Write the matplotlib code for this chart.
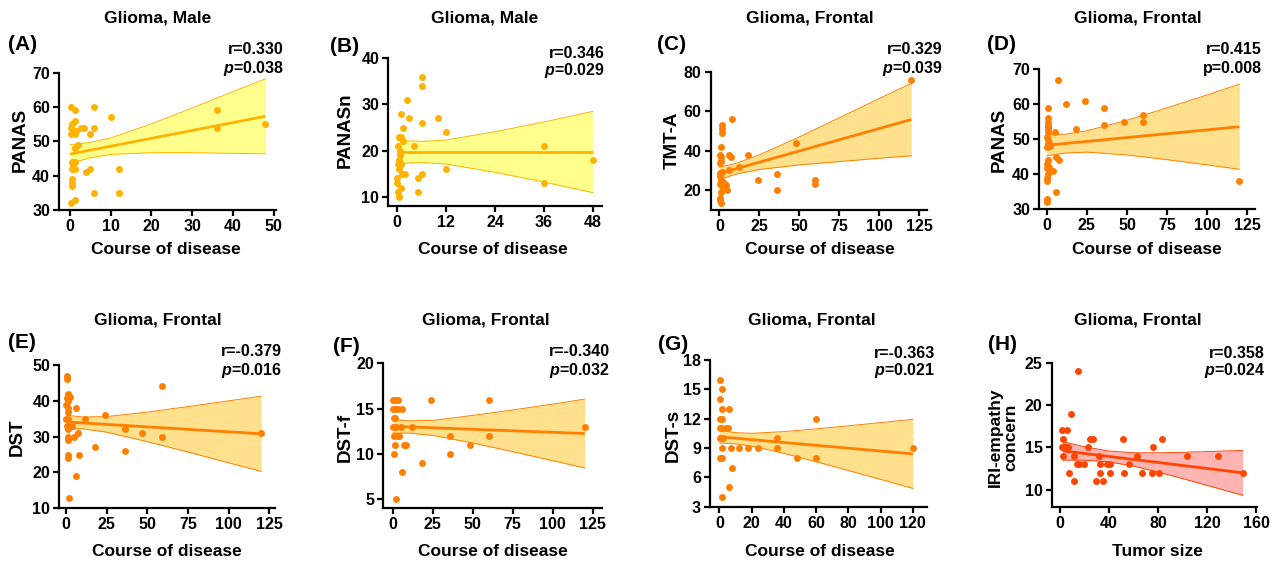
"""Eight Prism-style correlation panels (glioma, course of disease / tumor size)."""
import matplotlib

matplotlib.use("Agg")
import matplotlib.pyplot as plt  # noqa: E402

W, H = 1277, 561

plt.rcParams["font.family"] = ["Liberation Sans", "DejaVu Sans"]
plt.rcParams["font.weight"] = "bold"
plt.rcParams["mathtext.fontset"] = "custom"
plt.rcParams["mathtext.it"] = "Liberation Sans:bold:italic"
plt.rcParams["mathtext.rm"] = "Liberation Sans:bold"

# ---------------- data ----------------
# (A) Glioma, Male - PANAS
a_x = [0.3, 1.2, 1.2, 0.5, 0.3, 1.5, 0.3, 1.2, 2.8, 3.5, 5, 6, 6, 10, 2, 1.2,
       0.6, 1.2, 0.8, 0.4, 1.2, 4, 5, 12, 0.6, 0.4, 0.4, 6, 12, 1.2, 0.2,
       36, 36, 48]
a_y = [60, 59, 56, 55, 54, 53, 52, 52, 54, 54, 52, 60, 54, 57, 49, 48,
       44, 44, 43, 42, 42, 41, 42, 42, 39, 38, 37, 35, 35, 33, 32,
       59, 54, 55]
a_fit_x = [0, 48]
a_fit_y = [46.3, 57.3]
a_band_x = [0, 5, 10, 20, 30, 40, 48]
a_band_lo = [43.6, 45.2, 46.2, 46.7, 46.7, 46.5, 46.4]
a_band_hi = [49.0, 49.7, 51.0, 55.1, 59.7, 64.5, 68.2]

# (B) Glioma, Male - PANASn
b_x = [6, 6, 2.5, 1, 3, 10, 6, 1.5, 12, 0.5, 1, 1.5, 0.3, 4, 36, 0.7, 0.6,
       0.5, 0.8, 0.2, 2, 1.2, 6, 12, 0.5, 5, 0, 0, 0.8, 0.3, 5, 0.5, 36, 48]
b_y = [36, 34, 31, 28, 27, 27, 26, 25, 24, 23, 23, 22, 21, 21, 21, 20, 19,
       18, 17, 17, 15, 15, 15, 16, 16, 14, 14, 13, 12, 11, 11, 10, 13, 18]
b_fit_x = [0, 48]
b_fit_y = [19.7, 19.7]
b_band_x = [0, 6, 12, 24, 36, 48]
b_band_lo = [17.2, 17.4, 17.1, 15.3, 13.2, 10.9]
b_band_hi = [22.2, 22.0, 22.3, 24.1, 26.2, 28.5]

# (C) Glioma, Frontal - TMT-A
c_x = [120, 8, 1.5, 1.5, 1.5, 1, 0.5, 1, 6, 7, 18, 0.5, 1, 48, 12, 6, 0.5,
       1.5, 36, 24, 60, 60, 36, 5, 3.5, 4, 0.4, 1, 2, 0.4, 1.5, 1, 0.4, 1,
       0.5]
c_y = [76, 56, 53, 51, 49, 42, 38, 37, 38, 37, 38, 34, 35, 44, 32, 30, 28.5,
       29, 28, 25, 25, 23, 20, 20, 23, 22.5, 27, 25, 24, 23, 22, 19, 15.3,
       13.5, 16]
c_fit_x = [0, 120]
c_fit_y = [28.5, 55.8]
c_band_x = [0, 10, 25, 50, 75, 100, 120]
c_band_lo = [25.3, 28.1, 30.5, 32.8, 34.5, 36.2, 37.45]
c_band_hi = [31.7, 33.5, 37.9, 47.0, 56.7, 66.4, 74.15]

# (D) Glioma, Frontal - PANAS
d_x = [7, 1, 12, 24, 36, 60, 60, 48, 36, 18, 5, 0.5, 1, 0.5, 0.5, 1, 0.5,
       0, 0.6, 0.5, 0.4, 1.6, 2, 5.6, 7.7, 1, 0.4, 1.7, 0.4, 4, 1, 0.4, 0,
       6, 0.4, 0.4, 120]
d_y = [67, 59, 60, 61, 59, 57, 55, 55, 54, 53, 52, 56, 55, 54, 53.5, 53, 52,
       50.5, 49.7, 48.6, 47.8, 49, 48, 45, 44, 44, 43, 42, 41.6, 41, 40, 39,
       38, 35, 33, 32, 38]
d_fit_x = [0, 120]
d_fit_y = [48.2, 53.5]
d_band_x = [0, 12, 25, 50, 75, 100, 120]
d_band_lo = [45.2, 46.0, 46.25, 45.45, 44.1, 42.6, 41.35]
d_band_hi = [51.2, 51.4, 52.35, 55.35, 58.9, 62.6, 65.65]

# (E) Glioma, Frontal - DST
e_x = [0.4, 0.4, 1.4, 2.5, 0.4, 1.4, 0, 1, 6, 1.4, 24, 12, 0, 1.4, 3.5,
       0.4, 1, 36, 5, 7.6, 47, 59, 59, 120, 1.4, 1.4, 18, 36, 8, 1.4, 1.4,
       6, 1.8]
e_y = [47, 46, 42, 41, 40.7, 40, 38.8, 38, 38, 37, 36, 35, 35, 34.8, 33,
       33, 32, 32, 30, 31, 31, 30, 44, 31, 30, 29, 27, 26, 25, 25, 24,
       19, 13]
e_fit_x = [0, 120]
e_fit_y = [34.1, 30.8]
e_band_x = [0, 10, 25, 50, 75, 100, 120]
e_band_lo = [32.2, 32.2, 31.25, 28.6, 25.7, 22.7, 20.3]
e_band_hi = [36.0, 35.5, 35.6, 36.85, 38.4, 40.0, 41.3]

# (F) Glioma, Frontal - DST-f
f_x = [0, 1.5, 3, 24, 60, 0, 1.5, 3, 6, 0.8, 1.5, 0, 2, 5, 12, 120, 1, 3.5,
       4, 36, 60, 1.5, 7, 8.5, 48, 1, 36, 18, 6, 2]
f_y = [16, 16, 16, 16, 16, 15, 15, 15, 15, 14, 14, 13, 13, 13, 13, 13, 12,
       12, 12, 12, 12, 11, 11, 11, 11, 10, 10, 9, 8, 5]
f_fit_x = [0, 120]
f_fit_y = [13.05, 12.25]
f_band_x = [0, 10, 25, 50, 75, 100, 120]
f_band_lo = [12.3, 12.3, 12.05, 11.2, 10.25, 9.25, 8.45]
f_band_hi = [13.8, 13.65, 13.7, 14.25, 14.85, 15.5, 16.05]

# (G) Glioma, Frontal - DST-s
g_x = [0.4, 1.4, 0.4, 1.4, 6, 0.4, 1.4, 60, 0.4, 1.9, 4, 5.6, 0.4, 2.5, 36,
       1.4, 7, 12, 18, 24, 36, 120, 0.4, 1.4, 48, 60, 8, 6, 1.4]
g_y = [16, 15, 14, 13, 13, 12, 12, 12, 11, 11, 11, 11, 10, 10, 10,
       9, 9, 9, 9, 9, 9, 9, 8, 8, 8, 8, 7, 5, 4]
g_fit_x = [0, 120]
g_fit_y = [10.15, 8.4]
g_band_x = [0, 10, 20, 40, 60, 80, 100, 120]
g_band_lo = [9.5, 9.43, 9.2, 8.46, 7.6, 6.7, 5.8, 4.87]
g_band_hi = [10.8, 10.57, 10.5, 10.68, 10.96, 11.27, 11.6, 11.93]

# (H) Glioma, Frontal - IRI-empathy concern vs tumor size
h_x = [15, 9, 2, 5.4, 2.7, 24.5, 26.7, 51.7, 83, 1.4, 3.3, 4.9, 6.8, 23, 76,
       2.7, 11.4, 32, 63, 104, 129, 13.6, 15.8, 19.9, 33, 38, 41, 56, 7.6,
       33, 41, 52, 67, 75, 81, 149, 11.4, 29.4, 35]
h_y = [24, 19, 17, 17, 16, 16, 16, 16, 16, 15, 15, 15, 15, 15, 15,
       14, 14, 14, 14, 14, 14, 13, 13, 13, 13, 13, 13, 13, 12,
       12, 12, 12, 12, 12, 12, 12, 11, 11, 11]
h_fit_x = [2, 149]
h_fit_y = [14.6, 12.0]
h_band_x = [2, 20, 40, 60, 80, 100, 120, 149]
h_band_lo = [13.5, 13.49, 13.29, 12.79, 12.08, 11.32, 10.52, 9.35]
h_band_hi = [15.7, 15.07, 14.57, 14.37, 14.36, 14.42, 14.5, 14.65]

# ---------------- styling / layout ----------------
YELLOW = {"pt": "#FFB300", "fill": "#FFFF8C"}
ORANGE = {"pt": "#FF8000", "fill": "#FFE08C"}
RED = {"pt": "#FF4500", "fill": "#FFB4B4"}

PANELS = [
    dict(tag="(A)", title="Glioma, Male", ylab="PANAS", xlab="Course of disease",
         x=a_x, y=a_y, fx=a_fit_x, fy=a_fit_y, bx=a_band_x, lo=a_band_lo, hi=a_band_hi,
         r="r=0.330", p=r"$p$=0.038", col=YELLOW,
         box=(59, 276, 72.7, 210), xlim=(-2.7, 50.6), ylim=(30, 70),
         xt=[0, 10, 20, 30, 40, 50], yt=[30, 40, 50, 60, 70],
         title_xy=(158, 18), tag_xy=(8, 45), rp_xy=(284, 50),
         ylab_xy=(20, 140), xlab_xy=(166, 250)),
    dict(tag="(B)", title="Glioma, Male", ylab="PANASn", xlab="Course of disease",
         x=b_x, y=b_y, fx=b_fit_x, fy=b_fit_y, bx=b_band_x, lo=b_band_lo, hi=b_band_hi,
         r="r=0.346", p=r"$p$=0.029", col=YELLOW,
         box=(388.3, 601.7, 58.3, 206), xlim=(-2.2, 50.2), ylim=(8, 40),
         xt=[0, 12, 24, 36, 48], yt=[10, 20, 30, 40],
         title_xy=(485, 18), tag_xy=(330, 47), rp_xy=(605, 53),
         ylab_xy=(345, 130), xlab_xy=(493, 250)),
    dict(tag="(C)", title="Glioma, Frontal", ylab="TMT-A", xlab="Course of disease",
         x=c_x, y=c_y, fx=c_fit_x, fy=c_fit_y, bx=c_band_x, lo=c_band_lo, hi=c_band_hi,
         r="r=0.329", p=r"$p$=0.039", col=ORANGE,
         box=(710.7, 927.3, 71.7, 210), xlim=(-5.4, 130), ylim=(10, 80),
         xt=[0, 25, 50, 75, 100, 125], yt=[20, 40, 60, 80],
         title_xy=(810, 18), tag_xy=(657, 45), rp_xy=(943, 50),
         ylab_xy=(672, 140), xlab_xy=(820, 250)),
    dict(tag="(D)", title="Glioma, Frontal", ylab="PANAS", xlab="Course of disease",
         x=d_x, y=d_y, fx=d_fit_x, fy=d_fit_y, bx=d_band_x, lo=d_band_lo, hi=d_band_hi,
         r="r=0.415", p="p=0.008", col=ORANGE,
         box=(1039, 1255, 69, 209), xlim=(-4.8, 129.8), ylim=(30, 70),
         xt=[0, 25, 50, 75, 100, 125], yt=[30, 40, 50, 60, 70],
         title_xy=(1138, 18), tag_xy=(987, 45), rp_xy=(1262, 50),
         ylab_xy=(999, 140), xlab_xy=(1147, 250)),
    dict(tag="(E)", title="Glioma, Frontal", ylab="DST", xlab="Course of disease",
         x=e_x, y=e_y, fx=e_fit_x, fy=e_fit_y, bx=e_band_x, lo=e_band_lo, hi=e_band_hi,
         r="r=-0.379", p=r"$p$=0.016", col=ORANGE,
         box=(59.3, 275, 365, 508.3), xlim=(-4.1, 128.5), ylim=(10, 50),
         xt=[0, 25, 50, 75, 100, 125], yt=[10, 20, 30, 40, 50],
         title_xy=(158, 320), tag_xy=(8, 343), rp_xy=(282, 352),
         ylab_xy=(17, 437), xlab_xy=(167, 552)),
    dict(tag="(F)", title="Glioma, Frontal", ylab="DST-f", xlab="Course of disease",
         x=f_x, y=f_y, fx=f_fit_x, fy=f_fit_y, bx=f_band_x, lo=f_band_lo, hi=f_band_hi,
         r="r=-0.340", p=r"$p$=0.032", col=ORANGE,
         box=(383.3, 601.7, 363.3, 508.3), xlim=(-5.9, 130.6), ylim=(4, 20),
         xt=[0, 25, 50, 75, 100, 125], yt=[5, 10, 15, 20],
         title_xy=(486, 320), tag_xy=(333, 347), rp_xy=(610, 352),
         ylab_xy=(345, 437), xlab_xy=(493, 552)),
    dict(tag="(G)", title="Glioma, Frontal", ylab="DST-s", xlab="Course of disease",
         x=g_x, y=g_y, fx=g_fit_x, fy=g_fit_y, bx=g_band_x, lo=g_band_lo, hi=g_band_hi,
         r="r=-0.363", p=r"$p$=0.021", col=ORANGE,
         box=(710, 927.3, 360, 506.7), xlim=(-5.8, 129), ylim=(3, 18),
         xt=[0, 20, 40, 60, 80, 100, 120], yt=[3, 6, 9, 12, 15, 18],
         title_xy=(812, 320), tag_xy=(658, 345), rp_xy=(935, 353),
         ylab_xy=(673, 435), xlab_xy=(820, 552)),
    dict(tag="(H)", title="Glioma, Frontal", ylab="IRI-empathy\nconcern", xlab="Tumor size",
         x=h_x, y=h_y, fx=h_fit_x, fy=h_fit_y, bx=h_band_x, lo=h_band_lo, hi=h_band_hi,
         r="r=0.358", p=r"$p$=0.024", col=RED,
         box=(1051.7, 1256.7, 362.7, 506.7), xlim=(-6.8, 160.5), ylim=(8, 25),
         xt=[0, 40, 80, 120, 160], yt=[10, 15, 20, 25],
         title_xy=(1138, 320), tag_xy=(988, 345), rp_xy=(1265, 353),
         ylab_xy=(1003, 437), xlab_xy=(1157, 552)),
]


def fxy(x, y):
    return x / W, 1 - y / H


def draw_panel(fig, p):
    x0, x1, yt, yb = p["box"]
    ax = fig.add_axes([x0 / W, 1 - yb / H, (x1 - x0) / W, (yb - yt) / H])
    col = p["col"]
    ax.fill_between(p["bx"], p["lo"], p["hi"], color=col["fill"], lw=0, zorder=1)
    ax.plot(p["bx"], p["lo"], color=col["pt"], lw=0.7, zorder=2)
    ax.plot(p["bx"], p["hi"], color=col["pt"], lw=0.7, zorder=2)
    ax.plot(p["fx"], p["fy"], color=col["pt"], lw=2.0, zorder=3,
            solid_capstyle="butt")
    ax.scatter(p["x"], p["y"], s=25, color=col["pt"], lw=0, zorder=4, clip_on=False)

    ax.set_xlim(*p["xlim"])
    ax.set_ylim(*p["ylim"])
    ax.set_xticks(p["xt"])
    ax.set_yticks(p["yt"])
    ax.patch.set_visible(False)
    for s in ("top", "right"):
        ax.spines[s].set_visible(False)
    for s in ("left", "bottom"):
        ax.spines[s].set_linewidth(1.6)
    ax.tick_params(width=1.6, length=4.5, labelsize=11.5, pad=2)

    fig.text(*fxy(*p["title_xy"]), p["title"], ha="center", va="center", fontsize=12.5)
    fig.text(*fxy(*p["tag_xy"]), p["tag"], ha="left", va="center", fontsize=15)
    rx, ry = p["rp_xy"]
    fig.text(*fxy(rx, ry), p["r"], ha="right", va="center", fontsize=11.5)
    fig.text(*fxy(rx, ry + 18), p["p"], ha="right", va="center", fontsize=11.5)
    two_line = "\n" in p["ylab"]
    fig.text(*fxy(*p["ylab_xy"]), p["ylab"], ha="center", va="center",
             rotation=90, fontsize=12.5 if two_line else 13.5, linespacing=1.05)
    fig.text(*fxy(*p["xlab_xy"]), p["xlab"], ha="center", va="center", fontsize=12.5)


def main() -> None:
    fig = plt.figure(figsize=(W / 100, H / 100), dpi=100)
    for p in PANELS:
        draw_panel(fig, p)
    fig.savefig("out.png", dpi=100)


if __name__ == "__main__":
    main()
